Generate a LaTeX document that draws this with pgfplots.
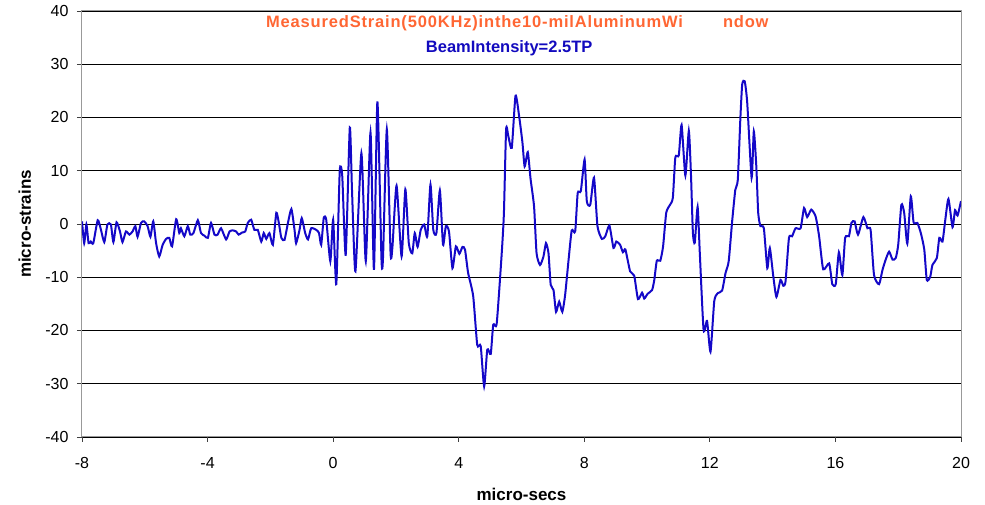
\documentclass[border=0pt]{standalone}
\usepackage{fontspec}
\setmainfont{Liberation Sans}
\usepackage{pgfplots}
\pgfplotsset{compat=1.18}

\definecolor{strainblue}{RGB}{20,8,200}
\definecolor{titleorange}{RGB}{255,102,51}
\definecolor{subblue}{RGB}{18,10,190}

% strain trace
\pgfplotstableread{
t s
-8.00 0.5
-7.93 -3.6
-7.86 -0.1
-7.79 -3.6
-7.72 -3.3
-7.64 -3.6
-7.50 0.7
-7.40 -1.0
-7.29 -3.4
-7.19 -0.1
-7.08 -0.1
-7.00 -3.4
-6.90 0.3
-6.79 -1.4
-6.71 -3.4
-6.60 -1.4
-6.49 -2.0
-6.39 -1.4
-6.30 -0.4
-6.23 -2.4
-6.12 0.2
-6.02 0.5
-5.91 -0.4
-5.82 -2.4
-5.73 0.5
-5.64 -3.6
-5.54 -6.1
-5.43 -3.9
-5.32 -2.8
-5.22 -2.6
-5.13 -4.2
-5.00 0.9
-4.90 -1.7
-4.85 -0.8
-4.74 -2.3
-4.63 -0.4
-4.55 -2.0
-4.45 -1.7
-4.31 0.7
-4.21 -1.7
-4.10 -2.2
-3.99 -2.6
-3.89 0.2
-3.78 -2.0
-3.68 -2.0
-3.57 -0.8
-3.41 -2.9
-3.30 -1.4
-3.20 -1.2
-3.09 -1.4
-3.01 -2.0
-2.90 -1.6
-2.80 -1.4
-2.72 0.2
-2.61 0.8
-2.51 -1.1
-2.40 -1.1
-2.29 -3.3
-2.21 -1.7
-2.13 -2.8
-2.03 -1.7
-1.92 -3.9
-1.81 2.1
-1.73 0.2
-1.65 -2.6
-1.55 -3.0
-1.44 0.2
-1.33 2.8
-1.23 -1.1
-1.18 -3.6
-1.07 -1.1
-1.00 1.1
-0.89 -1.7
-0.80 -2.9
-0.70 -0.8
-0.54 -1.1
-0.45 -1.7
-0.38 -3.9
-0.30 1.1
-0.22 0.8
-0.09 -7.0
0.00 0.8
0.10 -11.3
0.21 9.9
0.29 9.0
0.40 -5.8
0.53 18.1
0.60 6.5
0.71 -8.9
0.90 13.3
1.04 -7.0
1.19 17.2
1.30 -8.6
1.41 23.0
1.54 -6.7
1.59 -6.1
1.71 17.8
1.83 -5.6
1.89 -4.2
2.02 7.2
2.18 -6.1
2.30 6.5
2.41 -3.6
2.52 -5.5
2.60 -1.7
2.69 -4.3
2.79 -1.1
2.90 -0.1
3.00 -2.3
3.10 7.4
3.19 -1.1
3.29 -1.7
3.40 6.3
3.50 -3.9
3.59 -0.4
3.69 -1.4
3.80 -8.3
3.91 -4.2
4.02 -5.6
4.12 -4.3
4.20 -4.8
4.30 -9.2
4.46 -13.5
4.59 -22.7
4.70 -22.9
4.81 -30.5
4.91 -23.6
5.02 -24.4
5.10 -18.9
5.21 -18.7
5.37 -5.5
5.44 2.1
5.51 17.8
5.58 16.5
5.69 14.3
5.81 24.1
5.93 20.0
6.03 15.3
6.10 10.8
6.20 13.5
6.29 8.4
6.40 3.3
6.48 -5.5
6.59 -7.7
6.70 -6.1
6.78 -3.6
6.86 -5.5
6.93 -11.4
7.02 -12.4
7.10 -16.5
7.20 -14.6
7.30 -16.5
7.39 -13.3
7.50 -6.7
7.60 -1.2
7.71 -1.4
7.79 5.8
7.89 6.2
8.01 12.1
8.08 4.3
8.19 3.6
8.31 8.7
8.42 -0.4
8.56 -2.8
8.67 -2.3
8.80 -0.3
8.93 -4.5
9.02 -3.3
9.14 -3.9
9.23 -5.3
9.31 -4.8
9.46 -8.9
9.59 -9.7
9.71 -14.1
9.84 -12.9
9.91 -14.0
10.02 -13.1
10.16 -12.4
10.23 -10.5
10.31 -6.9
10.42 -6.9
10.51 -4.2
10.61 2.1
10.72 3.5
10.82 4.9
10.90 12.5
11.01 12.9
11.10 18.6
11.22 9.1
11.33 17.5
11.40 9.0
11.46 -1.7
11.52 -3.5
11.61 3.2
11.68 -5.5
11.80 -19.9
11.91 -18.2
12.02 -24.0
12.14 -14.5
12.25 -13.0
12.39 -12.5
12.50 -9.2
12.60 -7.0
12.71 0.5
12.81 6.4
12.89 8.3
12.97 19.6
13.03 26.2
13.11 26.8
13.19 22.8
13.33 8.7
13.40 17.4
13.48 10.8
13.54 2.1
13.61 -0.4
13.72 -0.8
13.83 -8.3
13.91 -4.5
14.02 -9.8
14.12 -13.7
14.25 -10.5
14.34 -11.6
14.41 -10.8
14.52 -2.6
14.62 -2.3
14.73 -0.8
14.89 -0.8
15.00 3.0
15.10 1.3
15.23 2.7
15.37 1.4
15.48 -2.3
15.61 -8.5
15.80 -7.4
15.90 -11.3
16.01 -11.3
16.11 -5.3
16.22 -9.6
16.31 -2.6
16.43 -2.3
16.51 0.2
16.61 0.5
16.72 -2.0
16.89 1.3
17.02 -0.8
17.12 -1.1
17.23 -9.6
17.39 -11.3
17.50 -8.6
17.60 -6.7
17.71 -5.2
17.82 -6.7
17.92 -6.4
18.00 -3.9
18.10 3.6
18.19 2.1
18.29 -3.7
18.40 5.2
18.49 0.3
18.61 0.2
18.72 -1.7
18.83 -4.8
18.91 -10.5
19.02 -9.9
19.09 -7.7
19.23 -6.4
19.31 -2.6
19.41 -3.3
19.50 0.8
19.60 4.7
19.73 -0.6
19.81 2.6
19.89 1.6
20.00 4.3
}\straindata

\begin{document}
\begin{tikzpicture}
\begin{axis}[
    name=ax,
    scale only axis,
    width=879pt,
    height=426pt,
    xmin=-8, xmax=20,
    ymin=-40, ymax=40,
    xtick={-8,-4,...,20},
    ytick={-40,-30,...,40},
    tick align=outside,
    major tick length=5pt,
    tick style={black!75, line width=0.8pt},
    xtick pos=bottom,
    ytick pos=left,
    axis line style={gray!80, line width=1pt},
    ymajorgrids=true,
    major grid style={black, line width=0.8pt},
    /pgf/number format/assume math mode=true,
    ticklabel style={font=\fontsize{16}{19}\selectfont},
    xticklabel style={yshift=-12pt},
    yticklabel style={xshift=-5pt},
    xlabel={micro-secs},
    ylabel={micro-strains},
    every axis x label/.style={at={(axis description cs:0.5,-0.134)}, anchor=center,
        font=\fontsize{17}{20}\selectfont\bfseries},
    every axis y label/.style={at={(axis description cs:-0.065,0.5)}, rotate=90, anchor=center,
        font=\fontsize{17}{20}\selectfont\bfseries},
    clip=true,
]
\addplot[strainblue, line width=2pt, smooth, tension=0.35] table[x=t, y=s] {\straindata};

\node[anchor=base west, text=titleorange, inner sep=0pt,
      font=\fontsize{16.5}{19}\selectfont\bfseries\addfontfeature{LetterSpace=5}]
    at (axis description cs:0.2093,0.9617) {MeasuredStrain(500KHz)inthe10-milAluminumWi};
\node[anchor=base west, text=titleorange, inner sep=0pt,
      font=\fontsize{16.5}{19}\selectfont\bfseries\addfontfeature{LetterSpace=5}]
    at (axis description cs:0.729,0.9617) {ndow};
\node[anchor=base, text=subblue, inner sep=0pt,
      font=\fontsize{16.5}{19}\selectfont\bfseries]
    at (axis description cs:0.486,0.903) {BeamIntensity=2.5TP};
\end{axis}
\pgfresetboundingbox
\path ([shift={(-82pt,-68pt)}]ax.south west) rectangle ([shift={(24pt,11pt)}]ax.north east);
\end{tikzpicture}
\end{document}
